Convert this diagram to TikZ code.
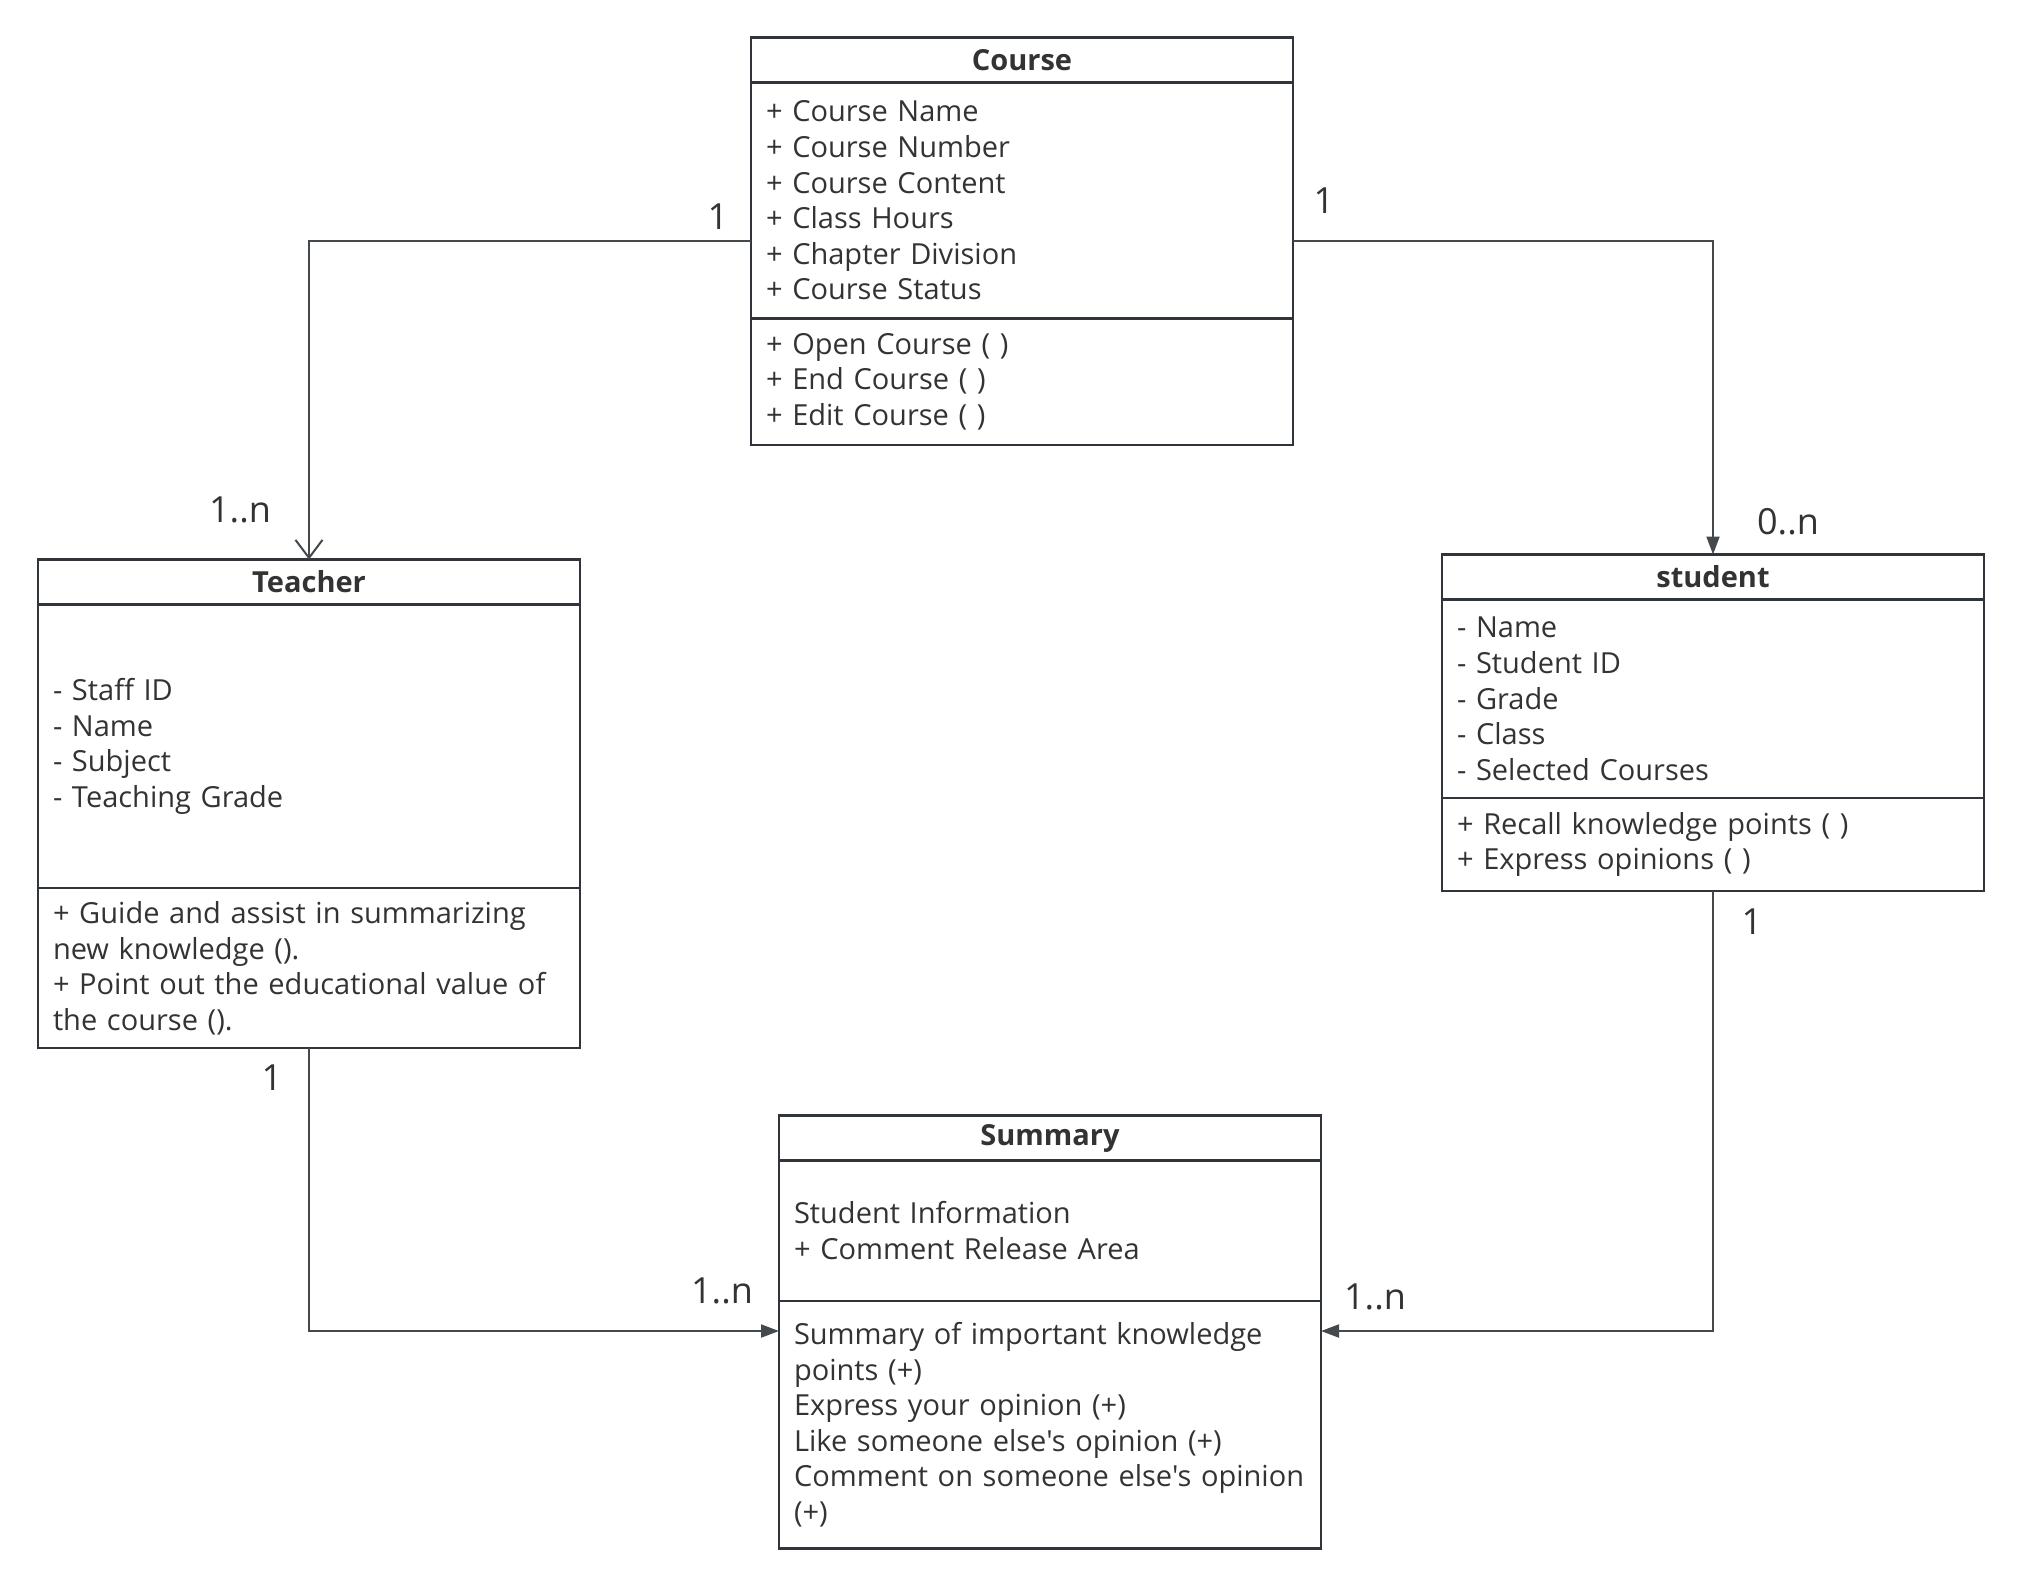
\documentclass[tikz,border=0pt]{standalone}
\usepackage{fontspec}
\setmainfont{Open Sans}[Ligatures=TeXOff]
\usetikzlibrary{arrows.meta,positioning}
\hyphenpenalty=10000
\definecolor{umlline}{HTML}{2F353A}
\definecolor{umltext}{HTML}{333333}
\tikzset{
  clsbase/.style={draw=umlline,line width=1.3pt,outer sep=0pt,text=umltext,inner xsep=7.5pt,inner ysep=0pt,text width=256pt,align=left,font=\fontsize{14.5}{17.8}\selectfont},
  clshead/.style={clsbase,align=center,minimum height=22.5pt,font=\fontsize{14.5}{17.8}\selectfont\bfseries},
  clspart/.style={clsbase},
  arr/.style={-{Triangle[length=9pt,width=6.5pt]},line width=1pt,draw=umlline!90},
  oarr/.style={-{Straight Barb[length=9pt,width=13.5pt]},line width=1pt,draw=umlline!90},
  mult/.style={text=umltext,font=\fontsize{18}{20}\selectfont,inner sep=0pt}
}
\begin{document}
\begin{tikzpicture}[x=0.5pt,y=-0.5pt,node distance=0pt]
  \useasboundingbox (0,0) rectangle (2022,1587);
  % Course
  \node[clshead] (chead) at (1022,60) {Course};
  \node[clspart, minimum height=118pt, below=of chead] (cattr) {+ Course Name\\+ Course Number\\+ Course Content\\+ Class Hours\\+ Chapter Division\\+ Course Status};
  \node[clspart, minimum height=63.2pt, below=of cattr] (cmeth) {+ Open Course ( )\\+ End Course ( )\\+ Edit Course ( )};
  % Teacher
  \node[clshead] (thead) at (309,582) {Teacher};
  \node[clspart, minimum height=141.8pt, below=of thead] (tattr) {- Staff ID\\- Name\\- Subject\\- Teaching Grade};
  \node[clspart, minimum height=80pt, below=of tattr] (tmeth) {+ Guide and assist in summarizing\\new knowledge ().\\+ Point out the educational value of\\the course ().};
  % student
  \node[clshead] (shead) at (1713,577) {student};
  \node[clspart, minimum height=99.3pt, below=of shead] (sattr) {- Name\\- Student ID\\- Grade\\- Class\\- Selected Courses};
  \node[clspart, minimum height=46.4pt, below=of sattr] (smeth) {+ Recall knowledge points ( )\\+ Express opinions ( )};
  % Summary
  \node[clshead] (mhead) at (1050,1138) {Summary};
  \node[clspart, minimum height=70.2pt, below=of mhead] (mattr) {Student Information\\+ Comment Release Area};
  \node[clspart, minimum height=123.8pt, below=of mattr] (mmeth) {Summary of important knowledge\\points (+)\\Express your opinion (+)\\Like someone else's opinion (+)\\Comment on someone else's opinion\\(+)};

  \draw[oarr] (cattr.west |- 0,241) -| (thead.north);
  \draw[arr] (cattr.east |- 0,241) -| (shead.north);
  \draw[arr] (tmeth.south) |- (mmeth.west |- 0,1331);
  \draw[arr] (smeth.south) |- (mmeth.east |- 0,1331);

  \node[mult] (m1) at (718,217) {1};
  \node[mult] (m2) at (240,510) {1..n};
  \node[mult] (m3) at (1324,201) {1};
  \node[mult] (m4) at (1788,522) {0..n};
  \node[mult] (m5) at (272,1078) {1};
  \node[mult] (m6) at (722,1291) {1..n};
  \node[mult] (m7) at (1752,922) {1};
  \node[mult] (m8) at (1375,1297) {1..n};
\end{tikzpicture}
\end{document}
